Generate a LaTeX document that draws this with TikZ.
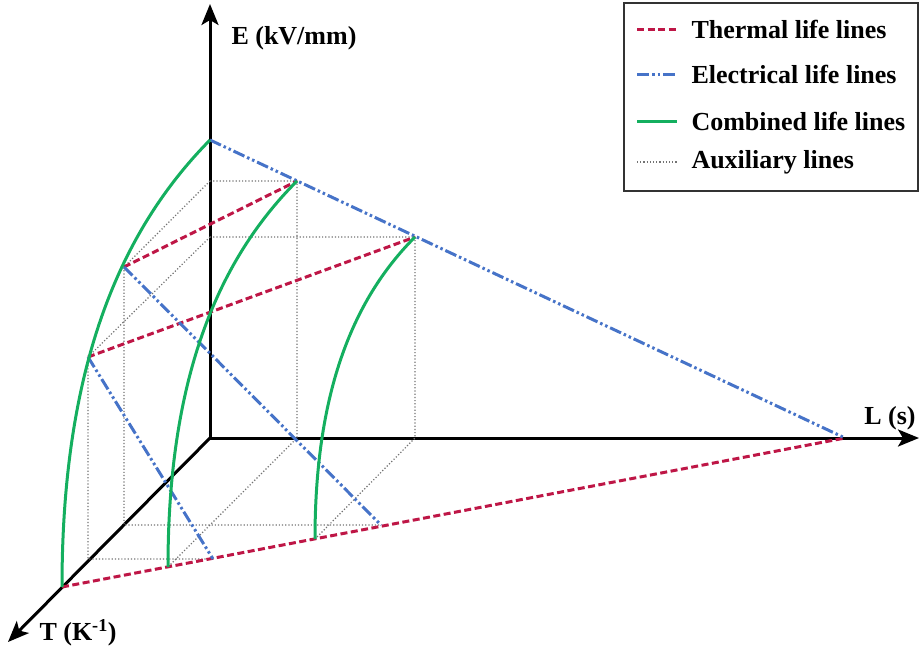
\documentclass[tikz,border=0pt]{standalone}
\usepackage{fontspec}
\setmainfont{Liberation Serif}
\usetikzlibrary{arrows.meta}
\definecolor{thermred}{RGB}{190,22,70}
\definecolor{elecblue}{RGB}{70,115,200}
\definecolor{combgreen}{RGB}{20,175,95}
\begin{document}
\begin{tikzpicture}[x=1pt,y=-1pt,line width=1pt,font=\fontsize{26}{30}\selectfont\bfseries,
  axis/.style={black,line width=3pt,-{Stealth[length=21pt,width=17pt,inset=5pt]}},
  thermal/.style={thermred,line width=3pt,dash pattern=on 7pt off 3.5pt},
  electrical/.style={elecblue,line width=3pt,dash pattern=on 12pt off 3pt on 2.5pt off 3pt on 2.5pt off 3pt},
  combined/.style={combgreen,line width=3pt},
  aux/.style={black!55,line width=1.2pt,dotted}]
\useasboundingbox (0,0) rectangle (920,653);
\coordinate (O) at (210,438);
\coordinate (Etip) at (210,4);
\coordinate (Ltip) at (919,438);
\coordinate (Ttip) at (8,642);
\coordinate (E0) at (210,140);
\coordinate (L0) at (845,438);
\coordinate (T0) at (62,587);
\coordinate (A1) at (124,267);
\coordinate (A2) at (88,357);
\coordinate (P1) at (297,181);
\coordinate (P2) at (415,237);
\coordinate (B1) at (168,567);
\coordinate (B2) at (315,539);
\coordinate (C1) at (381,525);
\coordinate (C2) at (213,559);
\coordinate (E1) at (210,181);
\coordinate (E2) at (210,237);
\coordinate (L1) at (297,438);
\coordinate (L2) at (415,438);
\coordinate (D1) at (124,525);
\coordinate (D2) at (88,559);
\draw[axis] (O)--(Etip);
\draw[axis] (O)--(Ltip);
\draw[axis] (O)--(Ttip);
\draw[aux] (E1)--(P1)--(L1)--(B1) (E2)--(P2)--(L2)--(B2);
\draw[aux] (E1)--(A1)--(D1)--(C1) (E2)--(A2)--(D2)--(C2);
\draw[thermal] (T0)--(L0);
\draw[thermal] (A1)--(P1);
\draw[thermal] (A2)--(P2);
\draw[electrical] (E0)--(L0);
\draw[electrical] (A1)--(C1);
\draw[electrical] (A2)--(C2);
\draw[combined] (T0)..controls (62,378) and (114,237)..(E0);
\draw[combined] (B1)..controls (168,387) and (213,265)..(P1);
\draw[combined] (B2)..controls (315,398) and (350,302)..(P2);
\node[anchor=west,inner sep=0pt] (Elabel) at (231,38) {E (kV/mm)};
\node[inner sep=0pt] (Llabel) at (890,418) {L (s)};
\node[anchor=west,inner sep=0pt] (Tlabel) at (39,633) {T (K\textsuperscript{-1})};
\draw[line width=1.5pt,black!80] (624,3) rectangle (918,191);
\foreach \y/\sty/\txt [count=\i] in {29/thermal/Thermal life lines,74/electrical/Electrical life lines,121/combined/Combined life lines,162/aux/Auxiliary lines}{
  \coordinate (s\i) at (637,\y);
  \coordinate (t\i) at (677,\y);
  \draw[\sty] (s\i)--(t\i);
  \node[anchor=west,inner sep=0pt] (leg\i) at (691,\y) {\txt};
}
\end{tikzpicture}
\end{document}
